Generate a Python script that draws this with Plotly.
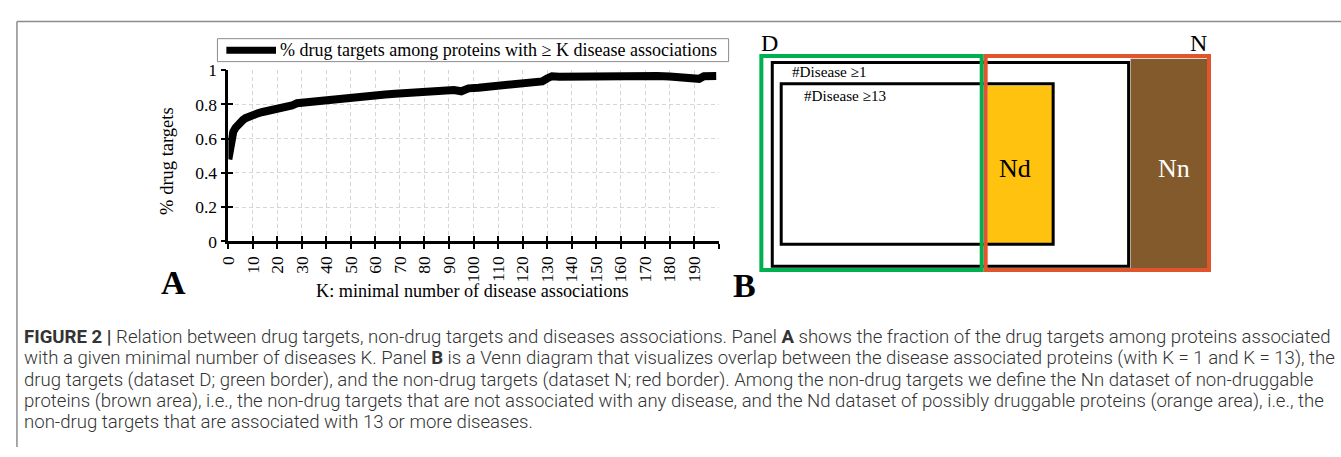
import plotly.graph_objects as go

# ---- Panel A data: fraction of drug targets among proteins with >= K disease associations
k_values = [0, 1, 2, 3, 4, 5, 6, 7, 8, 10, 12, 14, 16, 18, 20, 22, 24, 26, 28, 30,
            33, 36, 40, 44, 48, 52, 56, 60, 64, 68, 72, 76, 80, 84, 88, 92, 95, 98,
            102, 106, 110, 114, 118, 122, 126, 128, 130, 132, 135, 140, 145, 150,
            155, 160, 165, 170, 175, 180, 185, 190, 192, 194, 197, 199]
pct_drug_targets = [0.48, 0.60, 0.64, 0.665, 0.685, 0.70, 0.71, 0.72, 0.727, 0.738,
                    0.748, 0.756, 0.762, 0.766, 0.77, 0.774, 0.782, 0.795, 0.807, 0.81,
                    0.815, 0.821, 0.828, 0.833, 0.842, 0.85, 0.857, 0.861, 0.858, 0.862,
                    0.866, 0.869, 0.873, 0.879, 0.885, 0.884, 0.877, 0.894, 0.898, 0.902,
                    0.909, 0.911, 0.915, 0.922, 0.928, 0.935, 0.952, 0.965, 0.962, 0.963,
                    0.964, 0.965, 0.968, 0.972, 0.971, 0.97, 0.967, 0.964, 0.962, 0.958,
                    0.95, 0.965, 0.966, 0.966]

x_tick_vals = [0, 10, 20, 30, 40, 50, 60, 70, 80, 90, 100, 110, 120, 130, 140, 150,
               160, 170, 180, 190, 200]
x_tick_labels = ["0", "10", "20", "30", "40", "50", "60", "70", "80", "90", "100",
                 "110", "120", "130", "140", "150", "160", "170", "180", "190", ""]
y_tick_vals = [0, 0.2, 0.4, 0.6, 0.8, 1]
y_tick_labels = ["0", "0.2", "0.4", "0.6", "0.8", "1"]

series_name = "% drug targets among proteins with \u2265 K disease associations"
x_title = "K: minimal number of disease associations"
y_title = "% drug targets"

# ---- Panel B labels
venn_set_labels = ["D", "N"]
venn_region_labels = ["#Disease \u22651", "#Disease \u226513"]
venn_subset_labels = ["Nd", "Nn"]

# ---- Caption
caption_lines = [
    "<b>FIGURE 2 |</b> Relation between drug targets, non-drug targets and diseases associations. Panel <b>A</b> shows the fraction of the drug targets among proteins associated",
    "with a given minimal number of diseases K. Panel <b>B</b> is a Venn diagram that visualizes overlap between the disease associated proteins (with K = 1 and K = 13), the",
    "drug targets (dataset D; green border), and the non-drug targets (dataset N; red border). Among the non-drug targets we define the Nn dataset of non-druggable",
    "proteins (brown area), i.e., the non-drug targets that are not associated with any disease, and the Nd dataset of possibly druggable proteins (orange area), i.e., the",
    "non-drug targets that are associated with 13 or more diseases.",
]

W, H = 1341, 457
SERIF = "Liberation Serif"
SANS = "Roboto"


def fx(px):
    return px / W


def fy(py):
    return 1 - py / H


fig = go.Figure()
fig.add_trace(go.Scatter(
    x=k_values, y=pct_drug_targets, mode="lines", name=series_name,
    line=dict(color="black", width=8), showlegend=False,
))
# empty trace so the overlay axes (inner half of the cross ticks) are drawn
fig.add_trace(go.Scatter(x=[None], y=[None], xaxis="x2", yaxis="y2",
                         showlegend=False, hoverinfo="skip"))

x_dom = [fx(220), fx(714)]
y_dom = [fy(242), fy(63)]
tick_font = dict(family=SERIF, size=17.5, color="black")
GRID = dict(showgrid=True, gridcolor="#d6d6d6", griddash="4px,3px", gridwidth=1)

fig.update_layout(
    width=W, height=H, autosize=False,
    margin=dict(l=0, r=0, t=0, b=0),
    paper_bgcolor="white", plot_bgcolor="white",
    xaxis=dict(domain=x_dom, range=[0, 200], tickmode="array",
               tickvals=x_tick_vals, ticktext=x_tick_labels, tickangle=-90,
               ticks="outside", ticklen=5, tickwidth=2, tickcolor="black",
               showline=True, linecolor="black", linewidth=2.5,
               zeroline=False, tickfont=tick_font, anchor="y", **GRID),
    yaxis=dict(domain=y_dom, range=[0, 1], tickmode="array",
               tickvals=y_tick_vals, ticktext=y_tick_labels,
               ticks="outside", ticklen=5, tickwidth=2, tickcolor="black",
               showline=True, linecolor="black", linewidth=2.5,
               zeroline=False, tickfont=tick_font, anchor="x", **GRID),
    xaxis2=dict(domain=x_dom, range=[0, 200], overlaying="x", anchor="y",
                tickmode="array", tickvals=x_tick_vals, ticks="inside",
                ticklen=5, tickwidth=2, tickcolor="black", showticklabels=False,
                showgrid=False, showline=False, zeroline=False),
    yaxis2=dict(domain=y_dom, range=[0, 1], overlaying="y", anchor="x",
                tickmode="array", tickvals=y_tick_vals, ticks="inside",
                ticklen=5, tickwidth=2, tickcolor="black", showticklabels=False,
                showgrid=False, showline=False, zeroline=False),
    showlegend=False,
)

shapes = []
annotations = []

# frame lines of the figure box
shapes.append(dict(type="line", xref="paper", yref="paper", x0=fx(7), x1=fx(1341),
                   y0=fy(12), y1=fy(12), line=dict(color="#8c8c8c", width=1.5)))
shapes.append(dict(type="line", xref="paper", yref="paper", x0=fx(7), x1=fx(7),
                   y0=fy(12), y1=fy(457), line=dict(color="#8c8c8c", width=1.5)))

# legend box of panel A
shapes.append(dict(type="rect", xref="paper", yref="paper", x0=fx(209), x1=fx(724),
                   y0=fy(30), y1=fy(54), line=dict(color="#8c8c8c", width=1),
                   fillcolor="white"))
shapes.append(dict(type="line", xref="paper", yref="paper", x0=fx(218), x1=fx(268),
                   y0=fy(42), y1=fy(42), line=dict(color="black", width=7)))
annotations.append(dict(xref="paper", yref="paper", x=fx(270), y=fy(42),
                        xanchor="left", yanchor="middle", showarrow=False,
                        text=series_name,
                        font=dict(family=SERIF, size=18.0, color="black")))

# axis titles and panel letters
annotations.append(dict(xref="paper", yref="paper", x=fx(466), y=fy(294),
                        xanchor="center", yanchor="middle", showarrow=False,
                        text=x_title, font=dict(family=SERIF, size=18.2, color="black")))
annotations.append(dict(xref="paper", yref="paper", x=fx(158), y=fy(158),
                        xanchor="center", yanchor="middle", showarrow=False,
                        textangle=-90, text=y_title,
                        font=dict(family=SERIF, size=18.5, color="black")))
annotations.append(dict(xref="paper", yref="paper", x=fx(165), y=fy(285),
                        xanchor="center", yanchor="middle", showarrow=False,
                        text="<b>A</b>", font=dict(family=SERIF, size=34, color="black")))
annotations.append(dict(xref="paper", yref="paper", x=fx(740), y=fy(288),
                        xanchor="center", yanchor="middle", showarrow=False,
                        text="<b>B</b>", font=dict(family=SERIF, size=34, color="black")))

# ---- Panel B: Venn-style rectangles
GREEN = "#00b050"
RED = "#e0562c"
ORANGE = "#ffc20e"
BROWN = "#835a2c"


def rect(x0, y0, x1, y1, line_color=None, width=0, fill=None):
    d = dict(type="rect", xref="paper", yref="paper",
             x0=fx(x0), x1=fx(x1), y0=fy(y1), y1=fy(y0),
             line=dict(color=line_color or "rgba(0,0,0,0)", width=width))
    if fill:
        d["fillcolor"] = fill
    return d


shapes.append(rect(985, 79, 1050, 244, fill=ORANGE))
shapes.append(rect(1129, 51, 1207, 271, fill=BROWN))
shapes.append(rect(768, 55, 1127, 268, "black", 3))
shapes.append(rect(777, 77, 1051, 245, "black", 3))
shapes.append(rect(757, 48, 979, 272, GREEN, 4))
shapes.append(rect(983, 48, 1208, 272, RED, 4))

annotations.append(dict(xref="paper", yref="paper", x=fx(765), y=fy(34),
                        xanchor="center", yanchor="middle", showarrow=False,
                        text=venn_set_labels[0], font=dict(family=SERIF, size=24, color="black")))
annotations.append(dict(xref="paper", yref="paper", x=fx(1197), y=fy(34),
                        xanchor="center", yanchor="middle", showarrow=False,
                        text=venn_set_labels[1], font=dict(family=SERIF, size=24, color="black")))
annotations.append(dict(xref="paper", yref="paper", x=fx(786), y=fy(64),
                        xanchor="left", yanchor="middle", showarrow=False,
                        text=venn_region_labels[0], font=dict(family=SERIF, size=15.2, color="black")))
annotations.append(dict(xref="paper", yref="paper", x=fx(798), y=fy(89),
                        xanchor="left", yanchor="middle", showarrow=False,
                        text=venn_region_labels[1], font=dict(family=SERIF, size=15.2, color="black")))
annotations.append(dict(xref="paper", yref="paper", x=fx(1013), y=fy(166),
                        xanchor="center", yanchor="middle", showarrow=False,
                        text=venn_subset_labels[0], font=dict(family=SERIF, size=26, color="black")))
annotations.append(dict(xref="paper", yref="paper", x=fx(1173), y=fy(166),
                        xanchor="center", yanchor="middle", showarrow=False,
                        text=venn_subset_labels[1], font=dict(family=SERIF, size=26, color="white")))

# ---- caption below the panels
for i, line in enumerate(caption_lines):
    annotations.append(dict(xref="paper", yref="paper", x=fx(12), y=fy(342 + 22.3 * i),
                            xanchor="left", yanchor="middle", showarrow=False,
                            text=line,
                            font=dict(family=SANS, size=18.6, weight=300, color="#333333")))

fig.update_layout(shapes=shapes, annotations=annotations)
fig.write_html("out.html")
